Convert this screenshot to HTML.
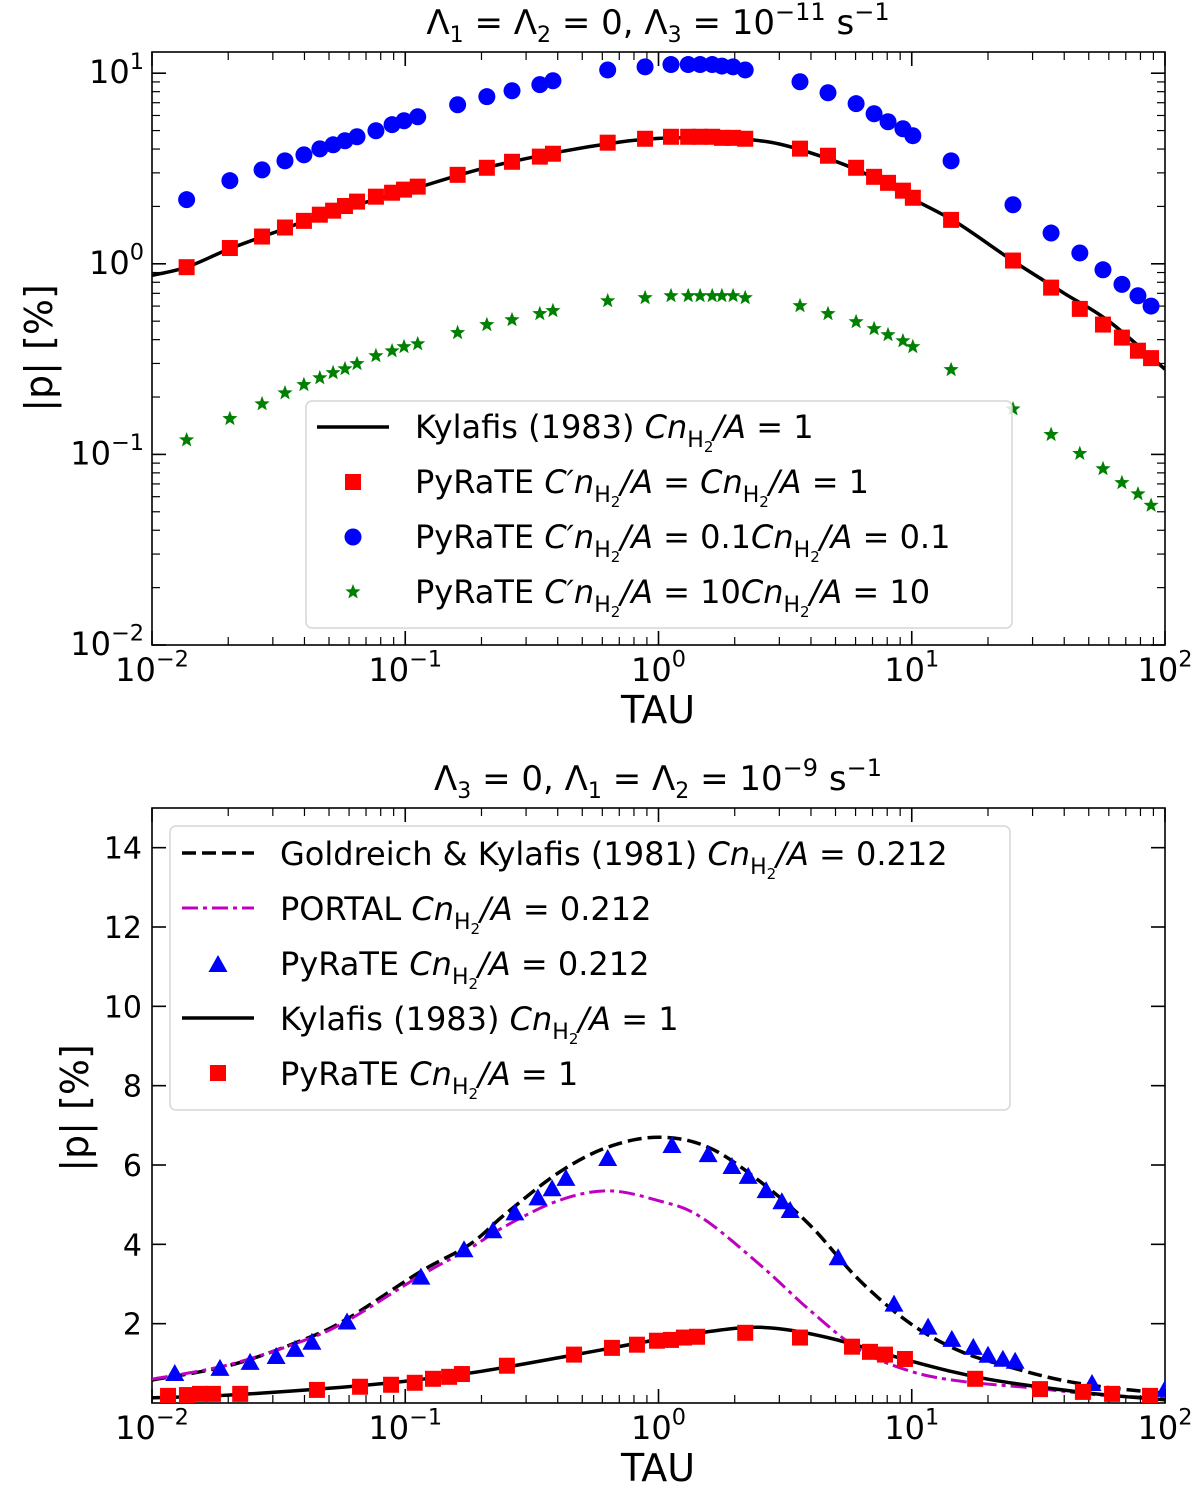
<!DOCTYPE html>
<html><head><meta charset="utf-8"><style>
html,body{margin:0;padding:0;background:#fff;}
svg{display:block;font-family:"DejaVu Sans","Liberation Sans",sans-serif;}
</style></head><body>
<svg id="fig" width="1200" height="1493" viewBox="0 0 1200 1493" xmlns="http://www.w3.org/2000/svg">
<g id="top"></g>
<g id="bot"></g>
</svg>
<script>
// ---------- TOP PANEL DATA ----------
const topTau = [0.0137,0.0203,0.0272,0.0335,0.0398,0.046,0.0519,0.0578,0.0645,0.0766,0.0887,0.0989,0.112,0.161,0.210,0.264,0.340,0.383,0.630,0.885,1.12,1.31,1.46,1.63,1.78,1.97,2.20,3.62,4.67,6.03,7.10,8.06,9.23,10.1,14.3,25.1,35.5,46.1,56.9,67.6,78.2,88.1];
const topRed = [0.96,1.21,1.39,1.55,1.68,1.81,1.90,2.01,2.12,2.25,2.36,2.45,2.54,2.93,3.19,3.43,3.65,3.78,4.32,4.53,4.64,4.64,4.64,4.64,4.58,4.58,4.53,4.02,3.69,3.19,2.86,2.66,2.42,2.22,1.70,1.04,0.75,0.58,0.48,0.41,0.35,0.32];
const topBlue = [2.17,2.73,3.11,3.47,3.73,4.01,4.21,4.42,4.64,4.99,5.37,5.63,5.91,6.83,7.53,8.09,8.71,9.13,10.4,10.8,11.1,11.1,11.1,11.1,10.9,10.8,10.4,9.02,7.90,6.92,6.13,5.56,5.11,4.70,3.47,2.04,1.45,1.14,0.93,0.78,0.68,0.60];
const topGreen = [0.119,0.154,0.184,0.210,0.232,0.252,0.268,0.281,0.299,0.329,0.349,0.367,0.380,0.435,0.479,0.508,0.547,0.567,0.639,0.663,0.679,0.679,0.679,0.679,0.679,0.679,0.663,0.602,0.547,0.496,0.456,0.424,0.394,0.367,0.278,0.173,0.127,0.101,0.084,0.071,0.062,0.054];
const kyTopTau = [0.01,0.0137,0.02,0.03,0.05,0.1,0.2,0.4,0.7,1,1.5,2,3,5,7,10,15,25,40,60,100];
const kyTopP = [0.87,0.96,1.19,1.45,1.85,2.4,3.15,3.85,4.35,4.55,4.6,4.55,4.25,3.45,2.85,2.2,1.65,1.04,0.7,0.5,0.28];
const xTickExp = [-2,-1,0,1,2];
const yTickExpTop = [-2,-1,0,1];

// ---------- BOTTOM PANEL DATA ----------
const gkTau = [0.01,0.0203,0.0398,0.06,0.114,0.18,0.247,0.402,0.63,1.0,1.57,2.5,3.94,6.2,9.9,15.6,24.6,38.7,61,100];
const gkP = [0.58,0.95,1.6,2.15,3.3,4.0,4.75,5.8,6.45,6.7,6.45,5.6,4.5,3.1,2.0,1.3,0.9,0.58,0.38,0.25];
const portalTau = [0.01,0.02,0.04,0.06,0.114,0.18,0.247,0.402,0.63,1.0,1.46,2.5,3.94,6.2,9.9,15.6,30,56,100];
const portalP = [0.6,0.96,1.58,2.1,3.2,3.9,4.45,5.1,5.35,5.1,4.7,3.5,2.35,1.35,0.8,0.55,0.38,0.2,0.13];
const triTau = [0.0123,0.01855,0.0244,0.0309,0.0367,0.0428,0.0589,0.1153,0.1706,0.222,0.271,0.334,0.380,0.431,0.630,1.13,1.57,1.95,2.26,2.66,3.07,3.31,5.12,8.51,11.6,14.4,17.5,20.0,22.9,25.6,51.5,100];
const triP = [0.73,0.86,1.01,1.16,1.34,1.52,2.03,3.16,3.85,4.33,4.78,5.16,5.39,5.65,6.15,6.48,6.25,5.95,5.70,5.34,5.06,4.84,3.65,2.48,1.90,1.59,1.39,1.19,1.09,1.04,0.48,0.33];
const sqTau = [0.01157,0.01374,0.01547,0.0174,0.0223,0.0448,0.0663,0.0879,0.109,0.1287,0.149,0.1675,0.252,0.464,0.655,0.822,0.986,1.12,1.26,1.42,2.20,3.62,5.81,6.84,7.84,9.40,17.8,32.1,47.4,61.8,87.3];
const sqP = [0.18,0.2,0.23,0.23,0.23,0.33,0.41,0.46,0.51,0.61,0.66,0.73,0.94,1.22,1.39,1.47,1.57,1.59,1.65,1.67,1.77,1.65,1.42,1.29,1.22,1.11,0.61,0.35,0.28,0.23,0.18];
const kyBotTau = [0.01,0.02,0.05,0.1,0.2,0.5,1,2,3,5,10,20,50,100];
const kyBotP = [0.13,0.2,0.37,0.55,0.8,1.25,1.6,1.88,1.87,1.6,1.05,0.6,0.25,0.08];
const yTicksBot = [2,4,6,8,10,12,14];

const NS = "http://www.w3.org/2000/svg";
function mk(tag, parent, attrs){
  const e = document.createElementNS(NS, tag);
  for (const k in attrs) e.setAttribute(k, attrs[k]);
  parent.appendChild(e);
  return e;
}
const L = 152, R = 1165;
function xs(t){ return L + (Math.log10(t) + 2) * (R - L) / 4; }
const T1 = 52, B1 = 645;
function ysTop(p){ return B1 - (Math.log10(p) + 2) * 190.6; }
const T2 = 808, B2 = 1403;
function ysBot(p){ return B2 - p * (B2 - T2) / 15; }

function supText(parent, x, y, base, exp, anchor, size){
  const t = mk('text', parent, {x:x, y:y, 'font-size':size, 'text-anchor':anchor, fill:'#000'});
  
  
  const a = mk('tspan', t, {}); a.textContent = base;
  const b = mk('tspan', t, {dy:-size*0.45, 'font-size':size*0.7}); b.textContent = exp;
  return t;
}

function axesFrame(g, top, bottom){
  const r = mk('rect', g, {x:L, y:top, width:R-L, height:bottom-top, fill:'none', stroke:'#000', 'stroke-width':1.6});
  
  
  for (let e = -2; e <= 2; e++){
    const x = xs(Math.pow(10,e));
    mk('line', g, {x1:x, x2:x, y1:bottom, y2:bottom-14, stroke:'#000','stroke-width':1.6});
    mk('line', g, {x1:x, x2:x, y1:top, y2:top+14, stroke:'#000','stroke-width':1.6});
    if (e < 2) for (let m = 2; m <= 9; m++){
      const xm = xs(m*Math.pow(10,e));
      mk('line', g, {x1:xm, x2:xm, y1:bottom, y2:bottom-8, stroke:'#000','stroke-width':1.2});
      mk('line', g, {x1:xm, x2:xm, y1:top, y2:top+8, stroke:'#000','stroke-width':1.2});
    }
  }
  xTickExp.forEach(e => {
    const x = xs(Math.pow(10,e));
    supText(g, x, bottom + 36, '10', e < 0 ? '\u2212' + (-e) : '' + e, 'middle', 32);
  });
}

function smoothPath(pts){
  let d = 'M' + pts[0][0].toFixed(1) + ',' + pts[0][1].toFixed(1);
  for (let i = 0; i < pts.length - 1; i++){
    const p0 = pts[Math.max(0,i-1)], p1 = pts[i], p2 = pts[i+1], p3 = pts[Math.min(pts.length-1,i+2)];
    const c1x = p1[0] + (p2[0]-p0[0])/6, c1y = p1[1] + (p2[1]-p0[1])/6;
    const c2x = p2[0] - (p3[0]-p1[0])/6, c2y = p2[1] - (p3[1]-p1[1])/6;
    d += ' C' + c1x.toFixed(1) + ',' + c1y.toFixed(1) + ' ' + c2x.toFixed(1) + ',' + c2y.toFixed(1) + ' ' + p2[0].toFixed(1) + ',' + p2[1].toFixed(1);
  }
  return d;
}
function curve(g, tauArr, pArr, ysf, attrs, name){
  const pts = tauArr.map((t,i) => [xs(t), ysf(pArr[i])]);
  const p = mk('path', g, Object.assign({d:smoothPath(pts), fill:'none'}, attrs));
  
  
}
function square(g, x, y, s, name){
  const r = mk('rect', g, {x:x-s/2, y:y-s/2, width:s, height:s, fill:'#ff0000'});
  
  
}
function circle(g, x, y, r, name){
  const c = mk('circle', g, {cx:x, cy:y, r:r, fill:'#0000ff'});
  
  
}
function star(g, x, y, r, name){
  let pts = [];
  for (let i = 0; i < 10; i++){
    const a = -Math.PI/2 + i*Math.PI/5;
    const rr = i % 2 ? r*0.42 : r;
    pts.push((x + rr*Math.cos(a)).toFixed(1) + ',' + (y + rr*Math.sin(a)).toFixed(1));
  }
  const p = mk('polygon', g, {points:pts.join(' '), fill:'#008000'});
  
  
}
function tri(g, x, y, r, name){
  const p = mk('polygon', g, {points:`${x},${y-r} ${x-r*0.95},${y+r*0.7} ${x+r*0.95},${y+r*0.7}`, fill:'#0000ff'});
  
  
}
function legendText(g, x, y, parts, name){
  const t = mk('text', g, {x:x, y:y, 'font-size':32, fill:'#000'});
  
  
  t.setAttribute('xml:space','preserve');
  let pending = 0;
  parts.forEach(p => {
    if (p[1] === 'sub'){
      const a = mk('tspan', t, {'font-size':22, dy:9 + pending}); a.textContent = 'H';
      const b = mk('tspan', t, {'font-size':15, dy:5}); b.textContent = '2';
      pending = -14;
    } else {
      const at = p[1] === 'i' ? {'font-style':'italic'} : {};
      if (pending) at.dy = pending;
      pending = 0;
      const s = mk('tspan', t, at);
      s.textContent = p[0];
    }
  });
}
function CnA(val){
  return [["Cn",'i'],['', 'sub'],['/A','i'],[' = ' + val,'n']];
}

// ================= TOP =================
const gt = document.getElementById('top');
const clipT = mk('clipPath', gt, {id:'clipTop'});
mk('rect', clipT, {x:L, y:T1, width:R-L, height:B1-T1});
axesFrame(gt, T1, B1);
for (let e = -2; e <= 1; e++){
  const y = ysTop(Math.pow(10,e));
  mk('line', gt, {x1:L, x2:L+14, y1:y, y2:y, stroke:'#000','stroke-width':1.6});
  mk('line', gt, {x1:R, x2:R-14, y1:y, y2:y, stroke:'#000','stroke-width':1.6});
  for (let m = 2; m <= 9; m++){
    const ym = ysTop(m*Math.pow(10,e));
    if (ym < T1) break;
    mk('line', gt, {x1:L, x2:L+8, y1:ym, y2:ym, stroke:'#000','stroke-width':1.2});
    mk('line', gt, {x1:R, x2:R-8, y1:ym, y2:ym, stroke:'#000','stroke-width':1.2});
  }
}
yTickExpTop.forEach(e => {
  supText(gt, L - 8, ysTop(Math.pow(10,e)) + 10, '10', e < 0 ? '\u2212' + (-e) : '' + e, 'end', 32);
});
const dataTop = mk('g', gt, {'clip-path':'url(#clipTop)'});


curve(dataTop, kyTopTau, kyTopP, ysTop, {stroke:'#000','stroke-width':3.5}, 'kylafis-1983-line');
topTau.forEach((t,i) => square(dataTop, xs(t), ysTop(topRed[i]), 16, 'pyrate-red-square'));
topTau.forEach((t,i) => circle(dataTop, xs(t), ysTop(topBlue[i]), 8.5, 'pyrate-blue-circle'));
topTau.forEach((t,i) => star(dataTop, xs(t), ysTop(topGreen[i]), 8, 'pyrate-green-star'));

const lgT = mk('g', gt, {});


mk('rect', lgT, {x:306, y:401, width:706, height:227, rx:6, fill:'#fff', 'fill-opacity':0.85, stroke:'#d6d6d6', 'stroke-width':1.5});
mk('line', lgT, {x1:317, x2:389, y1:427, y2:427, stroke:'#000','stroke-width':3.5});
square(lgT, 353, 482, 16, 'legend-red-square');
circle(lgT, 353, 537, 8.5, 'legend-blue-circle');
star(lgT, 353, 592, 8, 'legend-green-star');
legendText(lgT, 415, 438, [['Kylafis (1983)  ','n']].concat(CnA('1')), 'legend-kylafis');
legendText(lgT, 415, 493, [['PyRaTE  ','n'],["C\u2032n",'i'],['','sub'],['/A','i'],[' = ','n'],['Cn','i'],['','sub'],['/A','i'],[' = 1','n']], 'legend-pyrate-1');
legendText(lgT, 415, 548, [['PyRaTE  ','n'],["C\u2032n",'i'],['','sub'],['/A','i'],[' = 0.1','n'],['Cn','i'],['','sub'],['/A','i'],[' = 0.1','n']], 'legend-pyrate-0.1');
legendText(lgT, 415, 603, [['PyRaTE  ','n'],["C\u2032n",'i'],['','sub'],['/A','i'],[' = 10','n'],['Cn','i'],['','sub'],['/A','i'],[' = 10','n']], 'legend-pyrate-10');

(function(){
  const t = mk('text', gt, {x:658, y:34, 'font-size':34, 'text-anchor':'middle'});
  
  
  t.innerHTML = '\u039b<tspan font-size="22" dy="8">1</tspan><tspan dy="-8"> = \u039b</tspan><tspan font-size="22" dy="8">2</tspan><tspan dy="-8"> = 0,  \u039b</tspan><tspan font-size="22" dy="8">3</tspan><tspan dy="-8"> = 10</tspan><tspan font-size="24" dy="-14">\u221211</tspan><tspan dy="14"> s</tspan><tspan font-size="24" dy="-14">\u22121</tspan>';
  const xl = mk('text', gt, {x:658, y:723, 'font-size':38, 'text-anchor':'middle'});
  
  
  xl.textContent = 'TAU';
  const yl = mk('text', gt, {x:0, y:0, 'font-size':38, 'text-anchor':'middle', transform:'translate(52,348) rotate(-90)'});
  
  
  yl.textContent = '|p| [%]';
})();

// ================= BOTTOM =================
const gb = document.getElementById('bot');
const clipB = mk('clipPath', gb, {id:'clipBot'});
mk('rect', clipB, {x:L, y:T2, width:R-L, height:B2-T2});
axesFrame(gb, T2, B2);
yTicksBot.forEach(v => {
  const y = ysBot(v);
  mk('line', gb, {x1:L, x2:L+14, y1:y, y2:y, stroke:'#000','stroke-width':1.6});
  mk('line', gb, {x1:R, x2:R-14, y1:y, y2:y, stroke:'#000','stroke-width':1.6});
  const t = mk('text', gb, {x:L-10, y:y+11, 'font-size':30, 'text-anchor':'end'});
  
  
  t.textContent = v;
});
const dataBot = mk('g', gb, {'clip-path':'url(#clipBot)'});


curve(dataBot, gkTau, gkP, ysBot, {stroke:'#000','stroke-width':3.5,'stroke-dasharray':'14 6'}, 'goldreich-kylafis-line');
curve(dataBot, portalTau, portalP, ysBot, {stroke:'#bf00bf','stroke-width':3,'stroke-dasharray':'16 5 4 5'}, 'portal-line');
curve(dataBot, kyBotTau, kyBotP, ysBot, {stroke:'#000','stroke-width':3.5}, 'kylafis-1983-line');
triTau.forEach((t,i) => tri(dataBot, xs(t), ysBot(triP[i]), 10, 'pyrate-blue-triangle'));
sqTau.forEach((t,i) => square(dataBot, xs(t), ysBot(sqP[i]), 16, 'pyrate-red-square'));

const lgB = mk('g', gb, {});


mk('rect', lgB, {x:170, y:826, width:840, height:284, rx:6, fill:'#fff', 'fill-opacity':0.85, stroke:'#d6d6d6', 'stroke-width':1.5});
mk('line', lgB, {x1:182, x2:254, y1:853, y2:853, stroke:'#000','stroke-width':3.5,'stroke-dasharray':'14 6'});
mk('line', lgB, {x1:182, x2:254, y1:908, y2:908, stroke:'#bf00bf','stroke-width':3,'stroke-dasharray':'16 5 4 5'});
tri(lgB, 218, 965, 10, 'legend-blue-triangle');
mk('line', lgB, {x1:182, x2:254, y1:1018, y2:1018, stroke:'#000','stroke-width':3.5});
square(lgB, 218, 1073, 16, 'legend-red-square');
legendText(lgB, 280, 865, [['Goldreich & Kylafis (1981)  ','n']].concat(CnA('0.212')), 'legend-goldreich');
legendText(lgB, 280, 920, [['PORTAL ','n']].concat(CnA('0.212')), 'legend-portal');
legendText(lgB, 280, 975, [['PyRaTE  ','n']].concat(CnA('0.212')), 'legend-pyrate-0.212');
legendText(lgB, 280, 1030, [['Kylafis (1983)  ','n']].concat(CnA('1')), 'legend-kylafis');
legendText(lgB, 280, 1085, [['PyRaTE  ','n']].concat(CnA('1')), 'legend-pyrate-1');

(function(){
  const t = mk('text', gb, {x:658, y:790, 'font-size':34, 'text-anchor':'middle'});
  
  
  t.innerHTML = '\u039b<tspan font-size="22" dy="8">3</tspan><tspan dy="-8"> = 0,  \u039b</tspan><tspan font-size="22" dy="8">1</tspan><tspan dy="-8"> = \u039b</tspan><tspan font-size="22" dy="8">2</tspan><tspan dy="-8"> = 10</tspan><tspan font-size="24" dy="-14">\u22129</tspan><tspan dy="14"> s</tspan><tspan font-size="24" dy="-14">\u22121</tspan>';
  const xl = mk('text', gb, {x:658, y:1481, 'font-size':38, 'text-anchor':'middle'});
  
  
  xl.textContent = 'TAU';
  const yl = mk('text', gb, {x:0, y:0, 'font-size':38, 'text-anchor':'middle', transform:'translate(88,1108) rotate(-90)'});
  
  
  yl.textContent = '|p| [%]';
})();
</script>
</body></html>
